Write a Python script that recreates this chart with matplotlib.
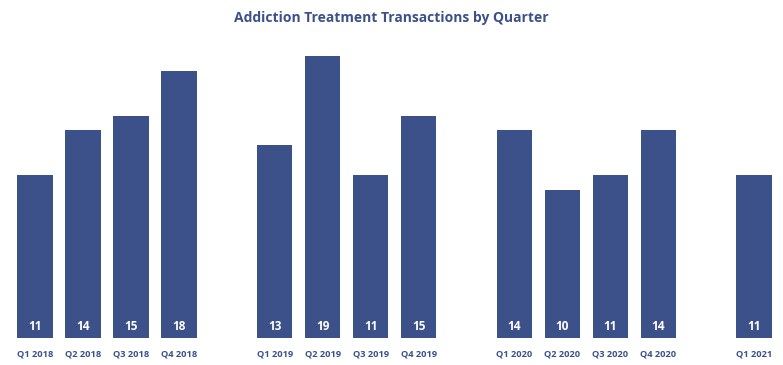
import matplotlib.pyplot as plt

quarters = ["Q1 2018", "Q2 2018", "Q3 2018", "Q4 2018",
            "Q1 2019", "Q2 2019", "Q3 2019", "Q4 2019",
            "Q1 2020", "Q2 2020", "Q3 2020", "Q4 2020",
            "Q1 2021"]
transactions = [11, 14, 15, 18, 13, 19, 11, 15, 14, 10, 11, 14, 11]
slots = [0, 1, 2, 3, 5, 6, 7, 8, 10, 11, 12, 13, 15]

color = "#3c5189"
plt.rcParams['font.family'] = ['Open Sans', 'DejaVu Sans']

fig = plt.figure(figsize=(7.83, 3.65), dpi=100)
ax = fig.add_axes([0, 27 / 365, 1, 338 / 365])

ax.bar(slots, transactions, width=0.74, color=color)
for x, v in zip(slots, transactions):
    ax.text(x, 0.8, str(v), ha="center", va="center", color="white",
            fontsize=8.5, fontweight="bold")

ax.set_xlim(-0.73, 15.6)
ax.set_ylim(0, 22.8)
ax.set_xticks(slots)
ax.set_xticklabels(quarters, fontsize=6.7, fontweight="bold", color=color)
ax.tick_params(axis="x", length=0, pad=8)
ax.set_yticks([])
for s in ax.spines.values():
    s.set_visible(False)

fig.text(0.5, 1 - 18 / 365, "Addiction Treatment Transactions by Quarter",
         ha="center", va="center", fontsize=10, fontweight="bold", color=color)

fig.savefig("out.png", dpi=100)
